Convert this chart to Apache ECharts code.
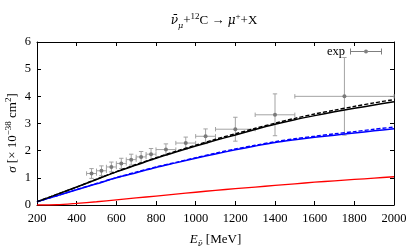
<!DOCTYPE html>
<html><head><meta charset="utf-8">
<script src="https://cdn.jsdelivr.net/npm/echarts@6/dist/echarts.min.js"></script>
<style>html,body{margin:0;padding:0;background:#fff}#c{width:415px;height:249px}</style>
</head><body><div id="c"></div>
<script>
// ---- data ----
const energyGrid = [200,300,400,500,600,700,800,900,1000,1100,1200,1300,1400,1500,1600,1700,1800,1900,2000];
const blackSolid  = [0.12,0.39,0.66,0.94,1.22,1.47,1.72,1.95,2.17,2.38,2.58,2.78,2.97,3.14,3.29,3.43,3.56,3.68,3.80];
const blackDashed = [0.12,0.39,0.66,0.95,1.23,1.49,1.74,1.98,2.20,2.42,2.62,2.82,3.01,3.19,3.35,3.49,3.63,3.76,3.88];
const blueSolid   = [0.12,0.34,0.56,0.78,1.00,1.19,1.38,1.55,1.72,1.88,2.03,2.17,2.30,2.40,2.49,2.57,2.65,2.73,2.81];
const blueDashed  = [0.12,0.34,0.57,0.79,1.01,1.21,1.40,1.57,1.74,1.91,2.06,2.20,2.33,2.44,2.53,2.62,2.70,2.79,2.87];
const redSolid    = [0.00,0.01,0.06,0.12,0.19,0.26,0.33,0.40,0.47,0.54,0.60,0.66,0.72,0.78,0.84,0.89,0.94,0.99,1.04];

const expE     = [475,525,575,625,675,725,775,850,950,1050,1200,1400,1750];
const expSigma = [1.16,1.26,1.40,1.53,1.67,1.77,1.87,2.04,2.28,2.53,2.79,3.32,4.00];
const expDE    = [25,25,25,25,25,25,25,50,50,50,100,100,250];
const expDS    = [0.18,0.18,0.18,0.19,0.20,0.20,0.21,0.21,0.22,0.27,0.44,0.77,1.43];

const xTicks = {min:200, max:2000, interval:200};
const yTicks = {min:0, max:6, interval:1};

// ---- chart ----
const SERIF = '"Liberation Serif","DejaVu Serif",serif';
const DJ = '"DejaVu Serif",serif';
const pair = arr => energyGrid.map((e,i)=>[e,arr[i]]);
const expData = expE.map((e,i)=>[e,expSigma[i],expDE[i],expDS[i]]);

const chart = echarts.init(document.getElementById('c'), null, {renderer:'canvas'});
const axisCommon = {
  axisLine:{show:true, onZero:false, lineStyle:{color:'#000', width:1}},
  axisTick:{show:true, inside:true, length:4, lineStyle:{color:'#000', width:1}},
  splitLine:{show:false}
};
const lineS = (name, arr, color, dashed, w) => ({
  name, type:'line', data: pair(arr), showSymbol:false, symbol:'none', smooth:0.3,
  xAxisIndex:0, yAxisIndex:0, z: dashed ? 4 : 3,
  lineStyle:{color, width:w, type: dashed ? [4,2] : 'solid'}, animation:false
});

chart.setOption({
  animation:false,
  grid:{left:37, right:21, top:42, bottom:44, outerBoundsMode:'none', containLabel:false},
  xAxis:[
    Object.assign({type:'value', position:'bottom', min:xTicks.min, max:xTicks.max, interval:xTicks.interval,
      axisLabel:{color:'#000', fontFamily:SERIF, fontSize:12.5, margin:7, formatter:v=>String(v)},
      name:'{i|E}{is|ν̄}{t| [MeV]}', nameLocation:'middle', nameGap:27,
      nameTextStyle:{rich:{
        i:{fontFamily:SERIF, fontStyle:'italic', fontSize:13, color:'#000', lineHeight:16},
        is:{fontFamily:DJ, fontStyle:'italic', fontSize:8, color:'#000', lineHeight:9, verticalAlign:'bottom'},
        t:{fontFamily:SERIF, fontSize:13, color:'#000', lineHeight:16}
      }}
    }, axisCommon),
    Object.assign({type:'value', position:'top', min:xTicks.min, max:xTicks.max, interval:xTicks.interval,
      axisLabel:{show:false}}, axisCommon)
  ],
  yAxis:[
    Object.assign({type:'value', position:'left', min:yTicks.min, max:yTicks.max, interval:yTicks.interval,
      axisLabel:{color:'#000', fontFamily:SERIF, fontSize:12.5, margin:6, formatter:v=>String(v)}}, axisCommon),
    Object.assign({type:'value', position:'right', min:yTicks.min, max:yTicks.max, interval:yTicks.interval,
      axisLabel:{show:false}}, axisCommon)
  ],
  legend:{
    show:true, right:33, top:45, itemWidth:32, itemHeight:6, align:'right', itemGap:0, padding:0,
    textStyle:{fontFamily:SERIF, fontSize:12.5, color:'#000'},
    data:[{name:'exp', icon:'path://M0,0h1v6h-1zM31,0h1v6h-1zM0,2.5h14v1h-14zM18,2.5h14v1h-14zM14,3a2,2 0 1 0 4,0a2,2 0 1 0 -4,0z',
      itemStyle:{color:'#7f7f7f'}}]
  },
  series:[
    {
      name:'exp', type:'custom', data: expData, xAxisIndex:0, yAxisIndex:0, z:2,
      itemStyle:{color:'#8a8a8a'},
      renderItem:(params, api)=>{
        const x=api.value(0), y=api.value(1), dx=api.value(2), dy=api.value(3);
        const c=api.coord([x,y]), l=api.coord([x-dx,y]), r=api.coord([x+dx,y]);
        const t=api.coord([x,y+dy]), b=api.coord([x,y-dy]);
        const cap=2.2;
        const st={stroke:'#a3a3a3', lineWidth:1};
        const ln=(x1,y1,x2,y2)=>({type:'line', shape:{x1,y1,x2,y2}, style:st});
        return {type:'group', children:[
          ln(l[0],l[1],r[0],r[1]),
          ln(l[0],l[1]-cap,l[0],l[1]+cap),
          ln(r[0],r[1]-cap,r[0],r[1]+cap),
          ln(t[0],t[1],b[0],b[1]),
          ln(t[0]-cap,t[1],t[0]+cap,t[1]),
          ln(b[0]-cap,b[1],b[0]+cap,b[1]),
          {type:'circle', shape:{cx:c[0], cy:c[1], r:2}, style:{fill:'#7a7a7a'}}
        ]};
      }
    },
    lineS('redSolid', redSolid, '#ff0000', false, 1.3),
    lineS('blueSolid', blueSolid, '#0000ff', false, 1.5),
    lineS('blueDashed', blueDashed, '#0000ff', true, 1.4),
    lineS('blackSolid', blackSolid, '#000000', false, 1.5),
    lineS('blackDashed', blackDashed, '#000000', true, 1.4)
  ],
  graphic:[
    {type:'text', x:214, y:21, style:{
      text:'{i|ν̄}{is|μ}{t|+}{p|12}{t|C → }{i|μ}{p|+}{t|+X}', align:'center', verticalAlign:'middle',
      rich:{
        t:{fontFamily:SERIF, fontSize:13, fill:'#000', lineHeight:17},
        i:{fontFamily:DJ, fontStyle:'italic', fontSize:12, fill:'#000', lineHeight:17},
        is:{fontFamily:DJ, fontStyle:'italic', fontSize:8, fill:'#000', lineHeight:9, verticalAlign:'bottom'},
        p:{fontFamily:SERIF, fontSize:9, fill:'#000', lineHeight:9, verticalAlign:'top'}
      }}},
    {type:'text', x:13, y:133, rotation:Math.PI/2, style:{
      text:'{i|σ}{t| [× 10}{p|−38}{t| cm}{p|2}{t|]}', align:'center', verticalAlign:'middle',
      rich:{
        t:{fontFamily:SERIF, fontSize:13, fill:'#000', lineHeight:17},
        i:{fontFamily:SERIF, fontStyle:'italic', fontSize:13, fill:'#000', lineHeight:17},
        p:{fontFamily:SERIF, fontSize:9, fill:'#000', lineHeight:9, verticalAlign:'top'}
      }}}
  ]
});
</script></body></html>
